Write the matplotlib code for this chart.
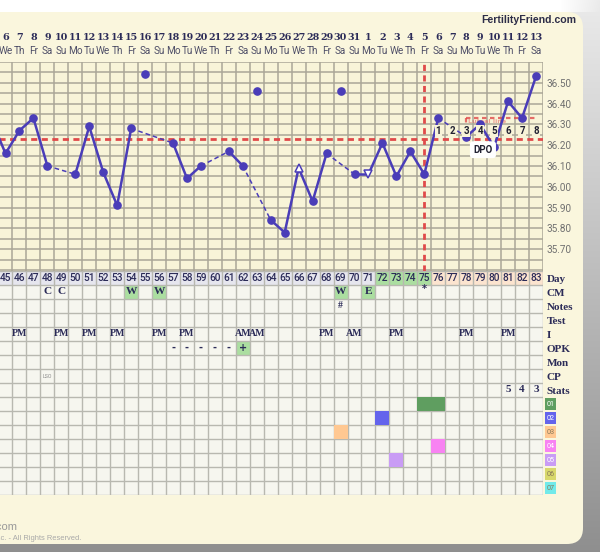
import numpy as np
import matplotlib
matplotlib.use("Agg")
import matplotlib.pyplot as plt
from matplotlib.patches import Rectangle, FancyBboxPatch

# ---------------- data ----------------
dates = [6, 7, 8, 9, 10, 11, 12, 13, 14, 15, 16, 17, 18, 19, 20, 21, 22, 23, 24, 25,
         26, 27, 28, 29, 30, 31, 1, 2, 3, 4, 5, 6, 7, 8, 9, 10, 11, 12, 13]
weekdays = ["We", "Th", "Fr", "Sa", "Su", "Mo", "Tu"] * 5 + ["We", "Th", "Fr", "Sa"]
cycle_days = list(range(45, 84))
nan = np.nan
temps = [36.16, 36.27, 36.33, 36.10, nan, 36.06, 36.29, 36.07, 35.91, 36.28,
         nan, nan, 36.21, 36.04, 36.10, nan, 36.17, 36.10, nan, 35.84,
         35.78, 36.09, 35.93, 36.16, nan, 36.06, 36.06, 36.21, 36.05, 36.17,
         36.06, 36.33, nan, 36.24, 36.30, 36.19, 36.41, 36.33, 36.53]
prev_temp = 36.32          # CD44, just off the left edge
discarded_days = [55, 63, 69]
discarded_temps = [36.54, 36.46, 36.46]
open_up_days = [66]
open_down_days = [71]
coverline = 36.23
ovulation_day = 75
dpo_days = list(range(76, 84))
dpo_labels = [1, 2, 3, 4, 5, 6, 7, 8]

cm_days = [48, 49, 54, 56, 69, 71, 75]
cm_vals = ["C", "C", "W", "W", "W", "E", "*"]
cm_green = [54, 56, 69, 71]
notes_days = [69]
notes_vals = ["#"]
i_days = [46, 49, 51, 53, 56, 58, 62, 63, 68, 70, 73, 78, 81]
i_vals = ["PM", "PM", "PM", "PM", "PM", "PM", "AM", "AM", "PM", "AM", "PM", "PM", "PM"]
opk_days = [57, 58, 59, 60, 61, 62]
opk_vals = ["-", "-", "-", "-", "-", "+"]
cp_days = [48]
cp_vals = ["LSO"]
stats_days = [81, 82, 83]
stats_vals = ["5", "4", "3"]
custom_labels = ["01", "02", "03", "04", "05", "06", "07"]
custom_colors = ["#5f9e60", "#6464ec", "#ffc892", "#f883f2", "#c99cf5", "#d8d86c", "#72eaea"]
custom_days = {0: [75, 76], 1: [72], 2: [69], 3: [76], 4: [73]}
row_labels = ["Day", "CM", "Notes", "Test", "I", "OPK", "Mon", "CP", "Stats"]

# ---------------- styles ----------------
W, H = 600, 552
PANEL = "#faf6dd"
NAVY = "#2b2b58"
LINE = "#4a3db8"
RED = "#e04a4a"
GRID = "#aaa797"
SERIF = "Liberation Serif"

fig = plt.figure(figsize=(W / 100, H / 100), dpi=100)


def px_axes(x0, y0, x1, y1):
    return fig.add_axes([x0 / W, 1 - y1 / H, (x1 - x0) / W, (y1 - y0) / H])


# ---------------- background ----------------
bg = px_axes(0, 0, W, H)
bg.set_xlim(0, W)
bg.set_ylim(H, 0)
bg.axis("off")
yy, xx = np.mgrid[0:H, 0:W]
shade = 0.92 - 0.36 * (yy / H)
shade = np.where((yy < 12) & (xx < 560), 1.0, shade)
fade = np.clip((xx - 560) / 40.0, 0, 1)
shade = np.where(yy < 12, 1.0 - fade * (1.0 - shade), shade)
img = np.dstack([shade, shade, shade])
bg.imshow(img, extent=(0, W, H, 0), aspect="auto", zorder=0)
bg.add_patch(FancyBboxPatch((-30, 12), 613, 532, boxstyle="round,pad=0,rounding_size=16",
                            fc=PANEL, ec="none", zorder=1))
bg.text(576, 20, "FertilityFriend.com", ha="right", va="center", fontsize=7.6,
        fontweight="bold", family="Liberation Sans", color="#2d2d48", zorder=3)
bg.text(17, 527, "FertilityFriend.com", ha="right", va="center", fontsize=8,
        family="Liberation Sans", color="#9a9a9a", zorder=3)
bg.text(81, 538, "Copyright \u00a9 Tamtris Web Services Inc. - All Rights Reserved.",
        ha="right", va="center", fontsize=5.4, family="Liberation Sans", color="#a8a8a8", zorder=3)

x0px, x1px = -1.48, 542.96
n = len(dates)
ks = np.arange(n)

# ---------------- temperature chart ----------------
TOP, BOT = 36.60, 35.595
ax = px_axes(x0px, 61.9, x1px, 271)
ax.set_xlim(-0.5, n - 0.5)
ax.set_ylim(BOT, TOP)
ax.set_facecolor("#f8f4d8")
for s in ax.spines.values():
    s.set_visible(False)
ax.hlines(np.arange(35.60, 36.601, 0.05), -0.5, n - 0.5, color=GRID, lw=1.1, zorder=1)
ax.vlines(np.arange(-0.5, n, 1.0), BOT, TOP, color=GRID, lw=1.1, zorder=1)
ax.set_xticks([])
ax.yaxis.tick_right()
yt = np.round(np.arange(35.70, 36.51, 0.10), 2)
ax.set_yticks(yt)
ax.set_yticklabels([f"{v:.2f}" for v in yt], family="Roboto", fontsize=7.2, color="#707070")
ax.tick_params(axis="y", length=0, pad=2.5)

# coverline and ovulation line
ax.axhline(coverline, color=RED, lw=2, ls=(0, (2.2, 1.6)), zorder=2)
ov_k = ovulation_day - cycle_days[0]
ax.vlines(ov_k, BOT, TOP, color=RED, lw=2, linestyles=[(0, (2.2, 1.6))], zorder=2)

# temperature line
tarr = np.array(temps)
xs = np.concatenate([[-1], ks])
ts = np.concatenate([[prev_temp], tarr])
valid = np.where(~np.isnan(ts))[0]
for a, b in zip(valid[:-1], valid[1:]):
    if b - a == 1:
        ax.plot(xs[[a, b]], ts[[a, b]], color=LINE, lw=1.8, zorder=4)
    else:
        ax.plot(xs[[a, b]], ts[[a, b]], color=LINE, lw=1.1, ls=(0, (3, 2)), zorder=4)
special = [d - cycle_days[0] for d in open_up_days + open_down_days]
normal = [k for k in ks if not np.isnan(tarr[k]) and k not in special]
ax.plot(normal, tarr[normal], "o", color=LINE, ms=5.2, zorder=5, clip_on=False)
ax.plot([d - cycle_days[0] for d in discarded_days], discarded_temps, "o", color=LINE, ms=5.2, zorder=5)
for d in open_up_days:
    ax.plot(d - cycle_days[0], tarr[d - cycle_days[0]], "^", mfc="white", mec=LINE, ms=6, mew=1.1, zorder=5)
for d in open_down_days:
    ax.plot(d - cycle_days[0], tarr[d - cycle_days[0]], "v", mfc="white", mec=LINE, ms=6, mew=1.1, zorder=5)

# luteal box
k33 = 78 - cycle_days[0]
ax.plot([k33, n - 1 + 0.1], [36.33, 36.33], color=RED, lw=1.6, ls=(0, (2, 1.6)), alpha=0.8, zorder=3)
ax.plot([k33, k33], [36.33, 36.29], color=RED, lw=1.6, ls=(0, (2, 1.6)), alpha=0.8, zorder=3)
ax.text(k33 + 0.1, 36.313, "Luteal line", fontsize=4.6, color=RED, alpha=0.5, fontweight="bold",
        va="center", ha="left", zorder=3)

# DPO numbers
for d, lab in zip(dpo_days, dpo_labels):
    ax.text(d - cycle_days[0], 36.268, str(lab), ha="center", va="center", fontsize=7,
            family="Roboto", fontweight="bold", color="#222233", zorder=6,
            bbox=dict(boxstyle="square,pad=0.1", fc="#f8f4d8", ec="none"))
ax.text(34.2, 36.178, "DPO", ha="center", va="center", fontsize=7, family="Roboto",
        fontweight="bold", color="#222233", zorder=7,
        bbox=dict(boxstyle="round,pad=0.35,rounding_size=0.3", fc="white", ec="none"))

# header
tr = ax.get_xaxis_transform()
for k in ks:
    ax.text(k, 1.117, str(dates[k]), transform=tr, ha="center", va="center", fontsize=6.9,
            family="DejaVu Serif", fontweight="bold", color=NAVY, clip_on=False)
    ax.text(k, 1.050, weekdays[k], transform=tr, ha="center", va="center", fontsize=7.2,
            family="Roboto", color="#4f4f68", clip_on=False)

# ---------------- table ----------------
nrows = len(row_labels) + len(custom_labels)
tb = px_axes(x0px, 271, x1px, 495)
tb.set_xlim(-0.5, n - 0.5)
tb.set_ylim(nrows - 0.5, -0.5)
tb.set_facecolor("#f6f6ef")
for s in tb.spines.values():
    s.set_visible(False)
tb.set_xticks([])
tb.yaxis.tick_right()
tb.set_yticks(range(len(row_labels)))
tb.set_yticklabels(row_labels, family=SERIF, fontweight="bold", fontsize=8, color=NAVY)
tb.tick_params(axis="y", length=0, pad=2.5)


def cell(k, r, color, z=1):
    tb.add_patch(Rectangle((k - 0.5, r - 0.5), 1, 1, fc=color, ec="none", zorder=z))


for k, cd in enumerate(cycle_days):
    if cd <= 71:
        c = "#e6e6ee"
    elif cd <= 75:
        c = "#abdea0"
    else:
        c = "#fce4cf"
    cell(k, 0, c)
    tb.text(k, 0, str(cd), ha="center", va="center", fontsize=7.3, family="Roboto",
            fontweight="medium", color=NAVY, zorder=4)
for d in cm_green:
    cell(d - cycle_days[0], 1, "#abdea0")
cell(opk_days[-1] - cycle_days[0], 5, "#abdea0")
for r, days in custom_days.items():
    for d in days:
        cell(d - cycle_days[0], 9 + r, custom_colors[r], z=3)

tb.hlines(np.arange(-0.5, nrows, 1.0), -0.5, n - 0.5, color="#b8b8b0", lw=1.0, zorder=2)
tb.vlines(np.arange(-0.5, n, 1.0), -0.5, nrows - 0.5, color="#b8b8b0", lw=1.0, zorder=2)


def put(days, vals, row, size=7.6, fam=SERIF, weight="bold", color=NAVY, dy=0.0):
    for d, v in zip(days, vals):
        tb.text(d - cycle_days[0], row + dy, v, ha="center", va="center", fontsize=size,
                family=fam, fontweight=weight, color=color, zorder=5)


put(cm_days[:-1], cm_vals[:-1], 1, size=8.2)
put(cm_days[-1:], cm_vals[-1:], 1, size=7, fam="DejaVu Sans", dy=-0.2)
put(notes_days, notes_vals, 2, size=7)
put(i_days, i_vals, 4, size=7.1)
put(opk_days, opk_vals, 5, size=7, fam="DejaVu Sans")
put(cp_days, cp_vals, 7, size=3.8, fam="Roboto", weight="normal", color="#8a8a8a")
put(stats_days, stats_vals, 8, size=8)

for r, (lab, col) in enumerate(zip(custom_labels, custom_colors)):
    tb.add_patch(Rectangle((38.62, 9 + r - 0.42), 0.8, 0.84, fc=col, ec="none",
                           clip_on=False, zorder=3))
    tb.text(39.02, 9 + r, lab, ha="center", va="center", fontsize=5.2, family="Roboto",
            color="white" if r in (0, 1, 3, 4) else "#8a7a5a", clip_on=False, zorder=4)

fig.savefig("out.png", dpi=100)
